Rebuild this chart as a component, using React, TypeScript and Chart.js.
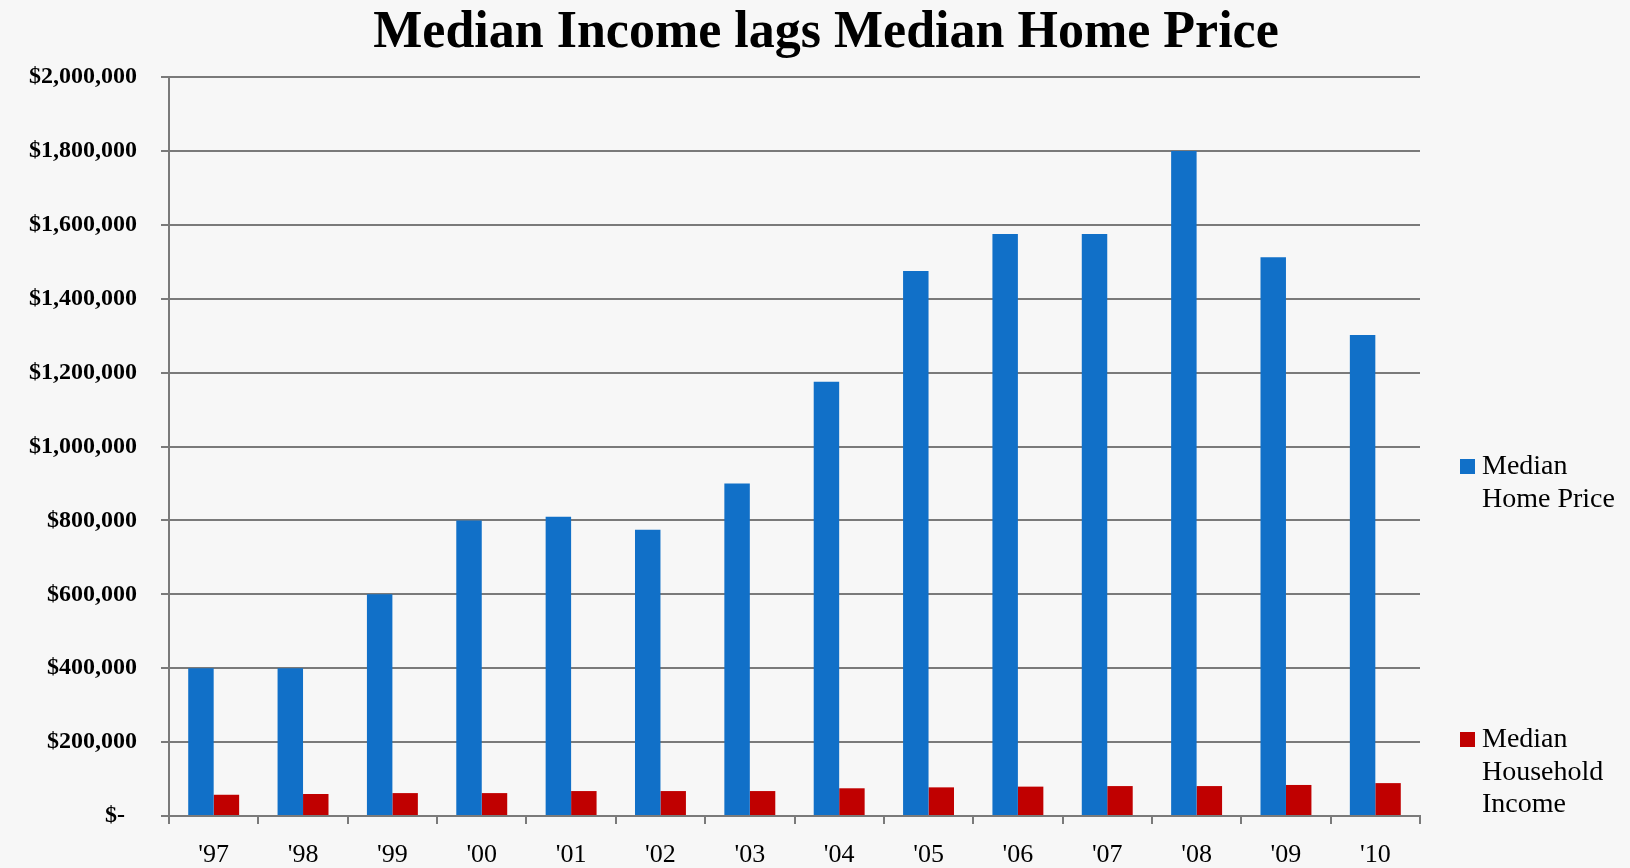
import React, { useEffect, useRef } from "react";
import { Chart, registerables } from "chart.js";

Chart.register(...registerables);

const chartTitle = "Median Income lags Median Home Price";
const categories = ["'97", "'98", "'99", "'00", "'01", "'02", "'03", "'04", "'05", "'06", "'07", "'08", "'09", "'10"];
const homePrice = [400000, 400000, 600000, 800000, 810000, 775000, 900000, 1175000, 1475000, 1575000, 1575000, 1800000, 1512000, 1302000];
const householdIncome = [57500, 59500, 62000, 62000, 67500, 67500, 67500, 75000, 77500, 79500, 81000, 81000, 84000, 89000];
const homeLabel = ["Median", "Home Price"];
const incomeLabel = ["Median", "Household", "Income"];
const yMin = 0;
const yMax = 2000000;
const yStep = 200000;

const BG = "#f7f7f7";
const SERIF = '"Liberation Serif", "Times New Roman", serif';

function fmtMoney(v: number): string {
  if (v === 0) return "$-  ";
  const s = String(Math.round(v));
  let out = "";
  for (let i = 0; i < s.length; i++) {
    if (i > 0 && (s.length - i) % 3 === 0) out += ",";
    out += s[i];
  }
  return "$" + out;
}

const decorPlugin = {
  id: "decor",
  beforeDraw(chart: any) {
    const ctx = chart.ctx;
    ctx.save();
    ctx.fillStyle = BG;
    ctx.fillRect(0, 0, chart.width, chart.height);
    ctx.restore();
  },
  afterDraw(chart: any) {
    const ctx = chart.ctx;
    ctx.save();
    // title
    ctx.fillStyle = "#000";
    ctx.font = `bold 52px ${SERIF}`;
    ctx.textAlign = "center";
    ctx.textBaseline = "alphabetic";
    ctx.fillText(chartTitle, 826, 47);
    // legend
    const items = [
      { lines: chart.data.datasets[0].legendLines, color: chart.data.datasets[0].backgroundColor, y: 474 },
      { lines: chart.data.datasets[1].legendLines, color: chart.data.datasets[1].backgroundColor, y: 747 },
    ];
    ctx.font = `28px ${SERIF}`;
    ctx.textAlign = "left";
    for (const it of items) {
      ctx.fillStyle = it.color;
      ctx.fillRect(1460, it.y - 15, 15, 15);
      ctx.fillStyle = "#000";
      it.lines.forEach((ln: string, i: number) => {
        ctx.fillText(ln, 1482, it.y + i * 32.5);
      });
    }
    ctx.restore();
  },
};

export default function App() {
  const ref = useRef<HTMLCanvasElement | null>(null);
  useEffect(() => {
    document.body.style.margin = "0";
    document.body.style.background = BG;
    const canvas = ref.current!;
    const chart = new Chart(canvas, {
      type: "bar",
      data: {
        labels: categories,
        datasets: [
          {
            label: homeLabel.join(" "),
            data: homePrice,
            backgroundColor: "#1170c8",
            borderWidth: 0,
            categoryPercentage: 0.57,
            barPercentage: 1.0,
            legendLines: homeLabel,
          } as any,
          {
            label: incomeLabel.join(" "),
            data: householdIncome,
            backgroundColor: "#c00000",
            borderWidth: 0,
            categoryPercentage: 0.57,
            barPercentage: 1.0,
            legendLines: incomeLabel,
          } as any,
        ],
      },
      options: {
        responsive: false,
        animation: false,
        layout: { padding: { top: 77, right: 210, bottom: 0, left: 0 } },
        plugins: {
          legend: { display: false },
          title: { display: false },
          tooltip: { enabled: false },
        },
        scales: {
          x: {
            offset: true,
            grid: {
              offset: true,
              drawOnChartArea: false,
              drawTicks: true,
              tickLength: 8,
              color: "#7a7a7a",
              lineWidth: 2,
            },
            border: { display: true, color: "#7a7a7a", width: 2 },
            ticks: {
              color: "#000",
              font: { family: SERIF, size: 26 },
              padding: 16,
              maxRotation: 0,
              autoSkip: false,
            },
            afterFit(scale: any) {
              scale.height = 52;
            },
          },
          y: {
            min: yMin,
            max: yMax,
            grid: {
              color: "#7a7a7a",
              lineWidth: 2,
              drawTicks: true,
              tickLength: 8,
            },
            border: { display: true, color: "#7a7a7a", width: 2 },
            ticks: {
              stepSize: yStep,
              color: "#000",
              font: { family: SERIF, size: 24, weight: "bold" },
              padding: 24,
              callback: (v: any) => fmtMoney(Number(v)),
            },
            afterFit(scale: any) {
              scale.width = 169;
            },
          },
        },
      },
      plugins: [decorPlugin],
    } as any);
    return () => chart.destroy();
  }, []);
  return (
    <div style={{ position: "absolute", left: 0, top: 0, width: 1630, height: 868, background: BG }}>
      <canvas ref={ref} width={1630} height={868} style={{ display: "block" }} />
    </div>
  );
}
